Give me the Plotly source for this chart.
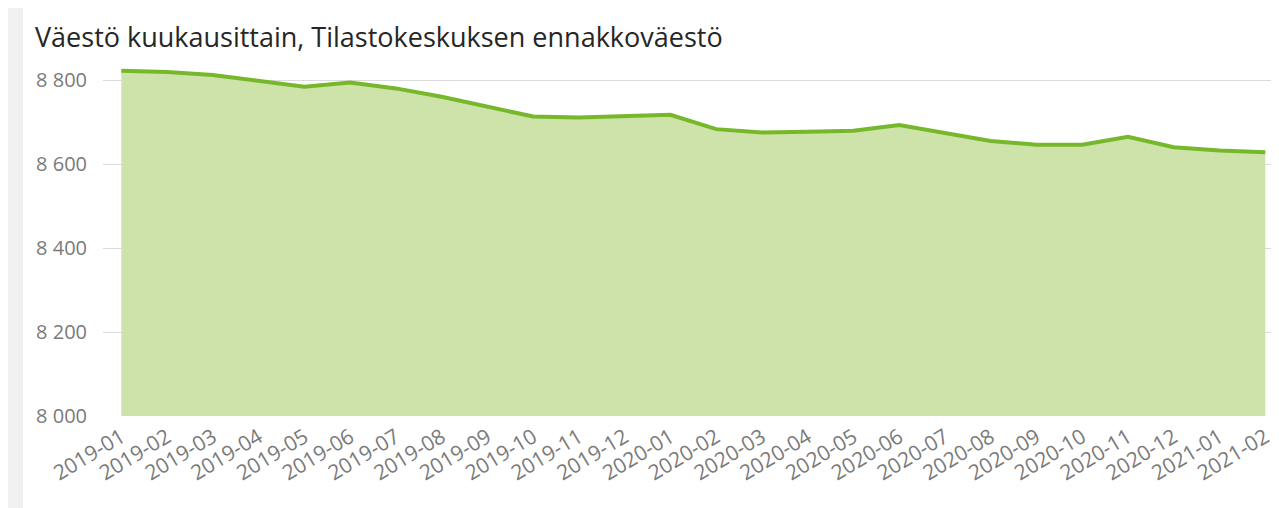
import plotly.graph_objects as go

months = ["2019-01", "2019-02", "2019-03", "2019-04", "2019-05", "2019-06", "2019-07",
          "2019-08", "2019-09", "2019-10", "2019-11", "2019-12", "2020-01", "2020-02",
          "2020-03", "2020-04", "2020-05", "2020-06", "2020-07", "2020-08", "2020-09",
          "2020-10", "2020-11", "2020-12", "2021-01", "2021-02"]
population = [8822, 8819, 8812, 8798, 8784, 8794, 8780, 8760, 8736, 8713, 8711, 8713,
              8717, 8683, 8675, 8677, 8679, 8693, 8673, 8655, 8646, 8646, 8665, 8640,
              8632, 8628]
y_tick_values = [8000, 8200, 8400, 8600, 8800]
y_tick_labels = ["8 000", "8 200", "8 400", "8 600", "8 800"]
title_text = "Väestö kuukausittain, Tilastokeskuksen ennakkoväestö"

# page body has an 8px default margin, so the figure is 8px smaller
W, H = 1271, 500
ml, mr, mt, mb = 95, 0, 51, 92
plot_h = H - mt - mb
plot_w = W - ml - mr
FONT = "Open Sans, Noto Sans, sans-serif"

fig = go.Figure()
fig.add_trace(go.Scatter(
    x=months, y=population, mode="lines",
    line=dict(color="#77b82a", width=4),
    fill="tozeroy", fillcolor="#cde3a9",
    hoverinfo="x+y",
))

fig.update_layout(
    width=W, height=H,
    margin=dict(l=ml, r=mr, t=mt, b=mb, autoexpand=False),
    paper_bgcolor="white", plot_bgcolor="white",
    showlegend=False,
    font=dict(family=FONT, color="#7a7a7a", size=20),
    title=dict(text=title_text, xref="container", yref="container",
               x=27 / W, xanchor="left", y=1 - 30 / H, yanchor="middle",
               font=dict(size=27, color="#262626", family=FONT)),
    xaxis=dict(type="category", range=[-0.4, 25.3], showgrid=False, zeroline=False,
               tickangle=-31, ticks="", showline=False, automargin=False,
               ticklabelstandoff=4,
               tickfont=dict(size=21, color="#7a7a7a")),
    yaxis=dict(range=[8000, 8850], tickvals=y_tick_values, ticktext=y_tick_labels,
               showgrid=True, gridcolor="#dcdcdc", gridwidth=1, zeroline=False,
               showline=False, ticks="", ticklabelstandoff=15, automargin=False,
               tickfont=dict(size=20, color="#7a7a7a")),
    shapes=[dict(type="rect", xref="paper", yref="paper",
                 x0=(0 - ml) / plot_w, x1=(15 - ml) / plot_w,
                 y0=(H - mb - H) / plot_h, y1=(H - mb) / plot_h,
                 fillcolor="#f0f0f0", line=dict(width=0), layer="below")],
)

fig.write_html("out.html")
